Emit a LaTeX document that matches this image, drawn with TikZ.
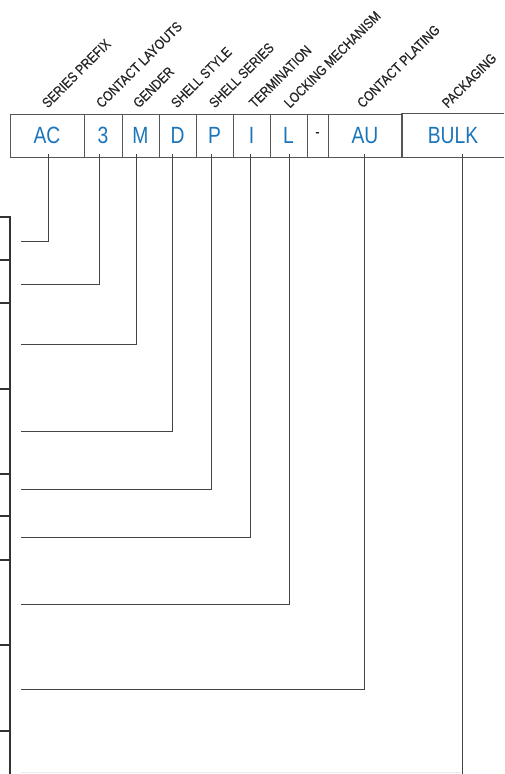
\documentclass[tikz,border=0pt]{standalone}
\usepackage{fontspec}
\setmainfont{Liberation Sans}
\newfontfamily\cellfont[FakeStretch=0.82]{Liberation Sans}
\newfontfamily\labfont[FakeStretch=0.85,FakeBold=0.5]{Liberation Sans}
\definecolor{codeblue}{HTML}{1A75BB}
\definecolor{linegray}{HTML}{444444}
\definecolor{framegray}{HTML}{555555}
\tikzset{
  cell/.style={rectangle, draw=framegray, line width=0.9pt, minimum height=43pt, inner sep=0pt,
    font=\cellfont\fontsize{23.5}{24}\selectfont, text=codeblue},
  lab/.style={anchor=south west, rotate=45, inner sep=0pt, text=black!85,
    font=\labfont\fontsize{14}{15}\selectfont},
  conn/.style={draw=linegray, line width=0.9pt},
  tbl/.style={draw=black!80, line width=2pt},
}
\begin{document}
\begin{tikzpicture}[x=1pt,y=-1pt]
\useasboundingbox (0,0) rectangle (504,774);
\fill[white] (0,0) rectangle (504,774);
% code cells
\node[cell, minimum width=74pt] (c1) at (47,135.5) {AC};
\node[cell, minimum width=38pt] (c2) at (103,135.5) {3};
\node[cell, minimum width=37pt] (c3) at (140.5,135.5) {M};
\node[cell, minimum width=37pt] (c4) at (177.5,135.5) {D};
\node[cell, minimum width=37pt] (c5) at (214.5,135.5) {P};
\node[cell, minimum width=37pt] (c6) at (251.5,135.5) {I};
\node[cell, minimum width=37pt] (c7) at (288.5,135.5) {L};
\node[cell, minimum width=21pt, font=\cellfont\fontsize{16}{16}\selectfont, text=black] (c8) at (317.5,135.5) {-};
\node[cell, minimum width=74pt] (c9) at (365,135.5) {AU};
\node[cell, draw=none, minimum width=102pt] (c10) at (453,135.5) {BULK};
\draw[framegray, line width=0.9pt] (c10.north east) -- (c10.north west) -- (c10.south west) -- (c10.south east);
% labels
\node[lab] (l1) at (48,109) {SERIES PREFIX};
\node[lab] (l2) at (102,109) {CONTACT LAYOUTS};
\node[lab] (l3) at (139,109) {GENDER};
\node[lab] (l4) at (177,109) {SHELL STYLE};
\node[lab] (l5) at (215,109) {SHELL SERIES};
\node[lab] (l6) at (255,109) {TERMINATION};
\node[lab] (l7) at (290,109) {LOCKING MECHANISM};
\node[lab] (l8) at (363,109) {CONTACT PLATING};
\node[lab] (l9) at (448,109) {PACKAGING};
% connector ends
\coordinate (e1) at (21,241);
\coordinate (e2) at (21,284);
\coordinate (e3) at (21,344);
\coordinate (e4) at (21,431);
\coordinate (e5) at (21,489);
\coordinate (e6) at (21,537);
\coordinate (e7) at (21,604);
\coordinate (e8) at (21,689);
\coordinate (e9) at (462,774);
% connectors
\draw[conn] ([xshift=1pt,yshift=3pt]c1.south) |- (e1);
\draw[conn] ([xshift=-4pt,yshift=3pt]c2.south) |- (e2);
\draw[conn] ([xshift=-4.5pt,yshift=3pt]c3.south) |- (e3);
\draw[conn] ([xshift=-5.5pt,yshift=3pt]c4.south) |- (e4);
\draw[conn] ([xshift=-3.5pt,yshift=3pt]c5.south) |- (e5);
\draw[conn] ([xshift=-1.5pt,yshift=3pt]c6.south) |- (e6);
\draw[conn] ([xshift=0.5pt,yshift=3pt]c7.south) |- (e7);
\draw[conn] ([xshift=-1pt,yshift=3pt]c9.south) |- (e8);
\draw[conn] ([xshift=9pt,yshift=3pt]c10.south) -- (e9);
\draw[black!8, line width=0.8pt] (21,772.5) -- (461,772.5);
% left table edge
\coordinate (t0) at (10,217);
\coordinate (tb) at (10,774);
\draw[tbl] (0,217) -- (t0) -- (tb);
\foreach \yy in {260,303,389,474,516,560,645,731}
  \draw[tbl] (0,\yy) -- (10,\yy);
\end{tikzpicture}
\end{document}
